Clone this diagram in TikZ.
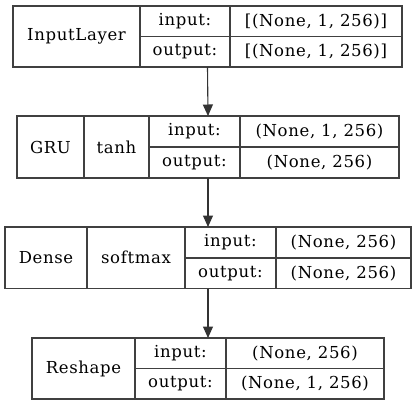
\documentclass[tikz,border=0pt]{standalone}
\usepackage{fontspec}
\setmainfont{DejaVu Serif}[LetterSpace=4]
\usetikzlibrary{arrows.meta}
\tikzstyle{framebox}=[draw=black!75, line width=1.1pt, inner sep=0pt, outer sep=0pt]
\tikzstyle{cellbox}=[draw=black!75, line width=1.1pt, inner sep=0pt, outer sep=0pt, font=\fontsize{16.5}{18}\selectfont]
\tikzstyle{edge}=[draw=black!80, line width=1.1pt, -{Triangle[length=11.5pt,width=10pt]}]
% whole record of one layer: name, left, top, right, bottom
\newcommand{\layerframe}[5]{
	\node[framebox, anchor=north west, minimum width={#4-#2}, minimum height={#5-#3}] (#1) at (#2,#3) {};
}
% one cell of a record: name, left, top, right, bottom, text
\newcommand{\layercell}[6]{
	\node[cellbox, anchor=north west, minimum width={#4-#2}, minimum height={#5-#3}] (#1) at (#2,#3) {#6};
}

\begin{document}
\begin{tikzpicture}[x=1pt, y=-1pt]
\useasboundingbox (0,0) rectangle (416,405);
% input layer
\layerframe{input}{13}{6}{402}{67}
\layercell{inname}{13}{6}{140}{67}{InputLayer}
\layercell{inink}{140}{6}{230}{36.5}{input:}
\layercell{inouk}{140}{36.5}{230}{67}{output:}
\layercell{ininv}{230}{6}{402}{36.5}{[(None, 1, 256)]}
\layercell{inouv}{230}{36.5}{402}{67}{[(None, 1, 256)]}
% gru
\layerframe{gru}{17}{116}{399}{178}
\layercell{gruname}{17}{116}{84}{178}{GRU}
\layercell{gruact}{84}{116}{149}{178}{tanh}
\layercell{gruink}{149}{116}{240}{147}{input:}
\layercell{gruouk}{149}{147}{240}{178}{output:}
\layercell{gruinv}{240}{116}{399}{147}{(None, 1, 256)}
\layercell{gruouv}{240}{147}{399}{178}{(None, 256)}
% dense
\layerframe{dense}{5}{227}{411}{288.5}
\layercell{densename}{5}{227}{87}{288.5}{Dense}
\layercell{denseact}{87}{227}{185}{288.5}{softmax}
\layercell{denseink}{185}{227}{276}{258}{input:}
\layercell{denseouk}{185}{258}{276}{288.5}{output:}
\layercell{denseinv}{276}{227}{411}{258}{(None, 256)}
\layercell{denseouv}{276}{258}{411}{288.5}{(None, 256)}
% reshape
\layerframe{reshape}{32}{338}{384}{399}
\layercell{rsname}{32}{338}{135}{399}{Reshape}
\layercell{rsink}{135}{338}{226}{368.5}{input:}
\layercell{rsouk}{135}{368.5}{226}{399}{output:}
\layercell{rsinv}{226}{338}{384}{368.5}{(None, 256)}
\layercell{rsouv}{226}{368.5}{384}{399}{(None, 1, 256)}
% connections
\draw[edge] (input.south) -- (gru.north);
\draw[edge] (gru.south) -- (dense.north);
\draw[edge] (dense.south) -- (reshape.north);
\end{tikzpicture}
\end{document}
